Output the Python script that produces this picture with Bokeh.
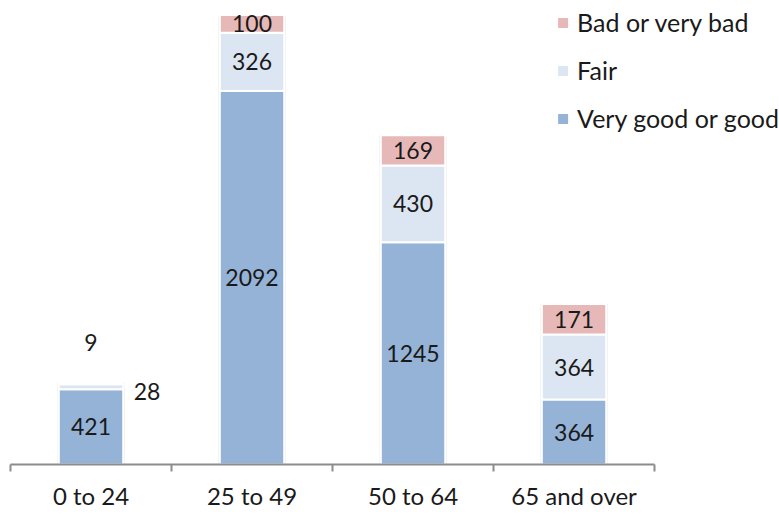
from bokeh.plotting import figure
from bokeh.models import Range1d, FixedTicker, Legend, LegendItem, ColumnDataSource
from bokeh.core.properties import value
from bokeh.embed import file_html
from bokeh.resources import INLINE

categories = ["0 to 24", "25 to 49", "50 to 64", "65 and over"]
good = [421, 2092, 1245, 364]
fair = [28, 326, 430, 364]
bad = [9, 100, 169, 171]
series_names = ["Very good or good", "Fair", "Bad or very bad"]
colors = ["#95b3d7", "#dce6f2", "#e6b9b8"]

FONT = "Lato"
n = len(categories)
xs = [i + 0.5 for i in range(n)]
series = [good, fair, bad]

p = figure(width=779, height=512, x_range=Range1d(0, 4.776), y_range=Range1d(0, 2560),
           output_backend="svg", toolbar_location=None,
           min_border_left=10, min_border_right=0, min_border_top=7, min_border_bottom=46)
p.outline_line_color = None
p.grid.visible = False
p.yaxis.visible = False
p.background_fill_color = "white"

totals = [sum(v) for v in zip(*series)]
# soft shadow behind bars
p.vbar(x=xs, top=totals, bottom=0, width=0.42, fill_color="#d0d0d0", fill_alpha=0.35, line_color=None)

bottoms = [0] * n
renderers = []
label_x, label_y, label_t, label_xo, label_yo = [], [], [], [], []
for k, vals in enumerate(series):
    tops = [b + v for b, v in zip(bottoms, vals)]
    src = ColumnDataSource(dict(x=xs, bottom=bottoms, top=tops))
    r = p.vbar(x="x", bottom="bottom", top="top", width=0.40, source=src,
               fill_color=colors[k], line_color="white", line_width=2)
    renderers.append(r)
    for i in range(n):
        label_x.append(xs[i])
        label_y.append((bottoms[i] + tops[i]) / 2)
        label_t.append(str(vals[i]))
        xo, yo = 0, 0
        if vals[i] < 50:  # tiny segments labelled outside, as in the original
            if k == 1:
                xo, yo = 56, 5
            else:
                xo, yo = 0, -41
        label_xo.append(xo)
        label_yo.append(yo)
    bottoms = tops

lsrc = ColumnDataSource(dict(x=label_x, y=label_y, t=label_t, xo=label_xo, yo=label_yo))
p.text(x="x", y="y", text="t", x_offset="xo", y_offset="yo", source=lsrc,
       text_font=value(FONT), text_font_size="23px", text_color="#1a1a1a",
       text_align="center", text_baseline="middle")

ax = p.xaxis[0]
ax.ticker = FixedTicker(ticks=xs, minor_ticks=list(range(n + 1)))
ax.major_label_overrides = {x: c for x, c in zip(xs, categories)}
ax.bounds = (0, n)
ax.axis_line_color = "#8c8c8c"
ax.axis_line_width = 2
ax.major_tick_line_color = None
ax.minor_tick_line_color = "#8c8c8c"
ax.minor_tick_line_width = 2
ax.minor_tick_out = 7
ax.minor_tick_in = 0
ax.major_label_text_font = FONT
ax.major_label_text_font_size = "24px"
ax.major_label_text_color = "#1a1a1a"
ax.major_label_standoff = 9

legend = Legend(items=[LegendItem(label=series_names[2], renderers=[renderers[2]]),
                       LegendItem(label=series_names[1], renderers=[renderers[1]]),
                       LegendItem(label=series_names[0], renderers=[renderers[0]])],
                location="top_right")
legend.label_text_font = FONT
legend.label_text_font_size = "25px"
legend.label_text_color = "#1a1a1a"
legend.glyph_width = 15
legend.glyph_height = 15
legend.label_standoff = 7
legend.spacing = 18
legend.padding = 7
legend.margin = 0
legend.border_line_color = None
legend.background_fill_alpha = 0
p.add_layout(legend)

open("out.html", "w").write(file_html(p, INLINE))
